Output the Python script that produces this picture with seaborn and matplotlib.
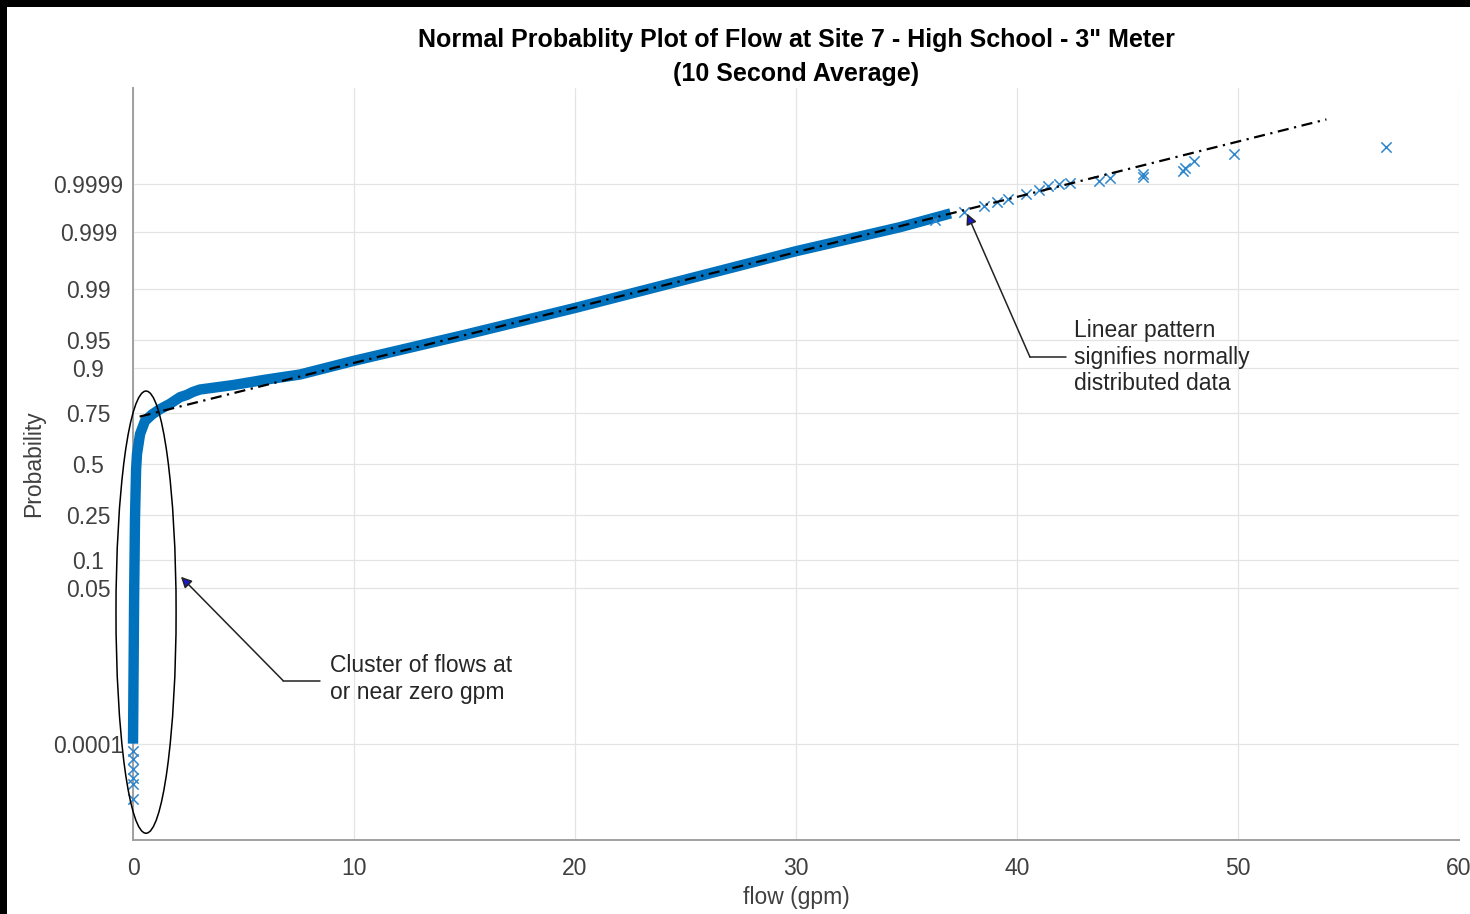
import matplotlib
matplotlib.use("Agg")
import matplotlib.pyplot as plt
from matplotlib.patches import Ellipse, Rectangle
import seaborn as sns
import pandas as pd
from statistics import NormalDist

# ---- data ----
band_flow = [0.0, 0.03, 0.05, 0.09, 0.14, 0.18, 0.32, 0.54, 0.86, 1.22, 1.67, 2.13,
             2.44, 2.71, 3.03, 4.52, 6.0, 7.56, 10.0, 15.0, 20.0, 25.0, 30.0, 34.7, 37.0]
band_prob = [0.0001, 0.00466, 0.0367, 0.233, 0.472, 0.552, 0.655, 0.716, 0.745, 0.767,
             0.788, 0.813, 0.821, 0.831, 0.839, 0.853, 0.869, 0.883, 0.915, 0.957,
             0.981, 0.9929, 0.99767, 0.99918, 0.99957]

upper_flow = [36.3, 37.6, 38.5, 39.1, 39.6, 40.4, 41.0, 41.4, 41.9, 42.4, 43.7, 44.2,
              45.7, 45.7, 47.5, 47.6, 48.0, 49.8, 56.7]
upper_prob = [0.999423, 0.999596, 0.999698, 0.999749, 0.999784, 0.999835, 0.999869,
              0.999888, 0.9999004, 0.999908, 0.999915, 0.9999277, 0.9999333, 0.999941,
              0.99995, 0.9999593, 0.9999721, 0.9999811, 0.9999878]

lower_flow = [0.02, 0.02, 0.01, 0.01, 0.0, 0.0]
lower_prob = [6.95e-5, 4.43e-5, 2.56e-5, 1.46e-5, 1.07e-5, 4.3e-6]

fit_flow = [0.3, 54.0]
fit_prob = [0.7357, 0.9999977]

prob_ticks = [0.0001, 0.05, 0.1, 0.25, 0.5, 0.75, 0.9, 0.95, 0.99, 0.999, 0.9999]
prob_labels = ["0.0001", "0.05", "0.1", "0.25", "0.5", "0.75", "0.9", "0.95", "0.99", "0.999", "0.9999"]
flow_ticks = [0, 10, 20, 30, 40, 50, 60]

title = 'Normal Probablity Plot of Flow at Site 7 - High School - 3" Meter\n(10 Second Average)'

nd = NormalDist()
q = lambda ps: [nd.inv_cdf(p) for p in ps]

band = pd.DataFrame({"flow": band_flow, "z": q(band_prob)})
upper = pd.DataFrame({"flow": upper_flow, "z": q(upper_prob)})
lower = pd.DataFrame({"flow": lower_flow, "z": q(lower_prob)})
fit = pd.DataFrame({"flow": fit_flow, "z": q(fit_prob)})

sns.set_theme(style="white")
plt.rcParams["font.family"] = ["Liberation Sans", "DejaVu Sans"]

fig = plt.figure(figsize=(14.7, 9.14), dpi=100)
fig.patch.set_facecolor("black")
fig.add_artist(Rectangle((7 / 1470, 0), 1, 1 - 7 / 914, transform=fig.transFigure,
                         facecolor="white", edgecolor="none", zorder=-10))
ax = fig.add_axes([133 / 1470, 1 - 840 / 914, 1326 / 1470, 752 / 914])
ax.set_facecolor("white")

blue = "#0072BD"
sns.lineplot(data=band, x="flow", y="z", sort=False, color=blue, lw=7.5,
             solid_capstyle="butt", ax=ax, zorder=3, clip_on=False)
sns.scatterplot(data=upper, x="flow", y="z", marker="x", color="#2f86cc", s=55,
                linewidth=1.1, ax=ax, zorder=3)
sns.scatterplot(data=lower, x="flow", y="z", marker="x", color="#2f86cc", s=55,
                linewidth=1.1, ax=ax, zorder=3, clip_on=False)
sns.lineplot(data=fit, x="flow", y="z", color="black", lw=1.6, ax=ax, zorder=4,
             linestyle=(0, (5, 2.5, 1, 2.5)))

ax.set_xlim(0, 60)
ax.set_ylim(-5, 5)
ax.set_xticks(flow_ticks)
ax.set_yticks(q(prob_ticks))
ax.set_yticklabels(prob_labels, ha="center")
ax.grid(True, color="#e4e4e4", lw=0.9)
ax.set_axisbelow(True)
for s in ["top", "right"]:
    ax.spines[s].set_visible(False)
for s in ["left", "bottom"]:
    ax.spines[s].set_color("#a0a0a0")
    ax.spines[s].set_linewidth(1.4)
ax.tick_params(direction="in", length=9.5, width=1.1, color="#707070",
               labelsize=16.5, labelcolor="#404040")
ax.tick_params(axis="x", pad=12)
ax.tick_params(axis="y", pad=32)

ax.set_xlabel("flow (gpm)", fontsize=16.5, color="#404040")
ax.set_ylabel("Probability", fontsize=16.5, color="#404040")
ax.xaxis.set_label_coords(0.5, -0.061)
ax.yaxis.set_label_coords(-0.066, 0.5)

ax.set_title(title, fontsize=18, fontweight="bold", color="black", pad=5,
             linespacing=1.55)

# annotations
ax.add_patch(Ellipse((0.59, -1.97), 2.72, 5.88, fill=False, ec="black", lw=1.1,
                     zorder=5, clip_on=False))

ax.plot([6.79, 8.46], [-2.88, -2.88], color="#222222", lw=1.1, zorder=5)
ax.annotate("", xy=(2.17, -1.50), xytext=(6.79, -2.88),
            arrowprops=dict(arrowstyle="-|>", fc="#1a1acc", ec="#222222", lw=1.1,
                            mutation_scale=16, shrinkA=0, shrinkB=0), zorder=5)
ax.text(8.91, -2.86, "Cluster of flows at\nor near zero gpm", fontsize=16.5,
        color="#262626", ha="left", va="center", linespacing=1.2)

ax.plot([40.59, 42.2], [1.42, 1.42], color="#222222", lw=1.1, zorder=5)
ax.annotate("", xy=(37.74, 3.33), xytext=(40.59, 1.42),
            arrowprops=dict(arrowstyle="-|>", fc="#1a1acc", ec="#222222", lw=1.1,
                            mutation_scale=16, shrinkA=0, shrinkB=0), zorder=5)
ax.text(42.6, 1.42, "Linear pattern\nsignifies normally\ndistributed data", fontsize=16.5,
        color="#262626", ha="left", va="center", linespacing=1.2)

fig.savefig("out.png", dpi=100, facecolor=fig.get_facecolor())
